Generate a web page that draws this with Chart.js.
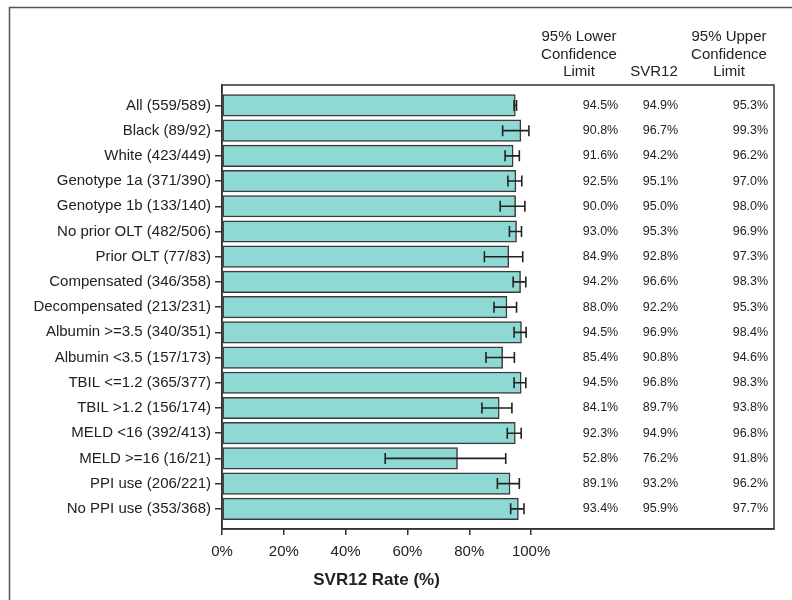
<!DOCTYPE html>
<html>
<head>
<meta charset="utf-8">
<script src="https://cdn.jsdelivr.net/npm/chart.js@4"></script>
<style>
  html, body { margin: 0; padding: 0; background: #fff; }
  #wrap { width: 792px; height: 600px; }
</style>
</head>
<body>
<div id="wrap"><canvas id="svrChart" width="792" height="600"></canvas></div>
<script>
// subgroup labels, top to bottom
const groups = [
    'All (559/589)', 'Black (89/92)', 'White (423/449)', 'Genotype 1a (371/390)',
    'Genotype 1b (133/140)', 'No prior OLT (482/506)', 'Prior OLT (77/83)',
    'Compensated (346/358)', 'Decompensated (213/231)', 'Albumin >=3.5 (340/351)',
    'Albumin <3.5 (157/173)', 'TBIL <=1.2 (365/377)', 'TBIL >1.2 (156/174)',
    'MELD <16 (392/413)', 'MELD >=16 (16/21)', 'PPI use (206/221)', 'No PPI use (353/368)'
];
const svr12 = [94.9, 96.7, 94.2, 95.1, 95.0, 95.3, 92.8, 96.6, 92.2, 96.9, 90.8, 96.8, 89.7, 94.9, 76.2, 93.2, 95.9];
const lowerCL = [94.5, 90.8, 91.6, 92.5, 90.0, 93.0, 84.9, 94.2, 88.0, 94.5, 85.4, 94.5, 84.1, 92.3, 52.8, 89.1, 93.4];
const upperCL = [95.3, 99.3, 96.2, 97.0, 98.0, 96.9, 97.3, 98.3, 95.3, 98.4, 94.6, 98.3, 93.8, 96.8, 91.8, 96.2, 97.7];
const xTicks = [0, 20, 40, 60, 80, 100];

const FONT = '"Liberation Sans", Arial, sans-serif';
const INK = '#222';

// outer frame + plot box
const framePlugin = {
    id: 'frame',
    beforeDraw(chart) {
        const c = chart.ctx;
        c.save();
        c.strokeStyle = '#555';
        c.lineWidth = 1.5;
        c.strokeRect(9.5, 7.5, 900, 700);
        c.restore();
    },
    afterDraw(chart) {
        const a = chart.chartArea, c = chart.ctx;
        c.save();
        c.strokeStyle = '#333';
        c.lineWidth = 1.5;
        c.strokeRect(a.left, a.top, a.right - a.left, a.bottom - a.top);
        c.restore();
    }
};

// confidence interval whiskers
const whiskerPlugin = {
    id: 'whiskers',
    afterDatasetsDraw(chart) {
        const xs = chart.scales.x, ys = chart.scales.y, c = chart.ctx;
        c.save();
        c.strokeStyle = INK;
        c.lineWidth = 1.6;
        lowerCL.forEach((lo, i) => {
            const y = ys.getPixelForValue(i);
            const x1 = xs.getPixelForValue(lo), x2 = xs.getPixelForValue(upperCL[i]);
            c.beginPath();
            c.moveTo(x1, y); c.lineTo(x2, y);
            c.moveTo(x1, y - 5.5); c.lineTo(x1, y + 5.5);
            c.moveTo(x2, y - 5.5); c.lineTo(x2, y + 5.5);
            c.stroke();
        });
        c.restore();
    }
};

// table columns on the right + x axis title
const tablePlugin = {
    id: 'table',
    afterDraw(chart) {
        const xs = chart.scales.x, ys = chart.scales.y, c = chart.ctx;
        const cols = [lowerCL, svr12, upperCL];
        const colRight = [128.2, 147.6, 176.7]; // in x-scale units
        c.save();
        c.fillStyle = INK;
        c.textBaseline = 'middle';
        c.font = '12.5px ' + FONT;
        c.textAlign = 'right';
        cols.forEach((vals, k) => {
            const x = xs.getPixelForValue(colRight[k]);
            vals.forEach((v, i) => c.fillText(v.toFixed(1) + '%', x, ys.getPixelForValue(i)));
        });
        c.font = '15px ' + FONT;
        c.textAlign = 'center';
        const heads = [
            [579, ['95% Lower', 'Confidence', 'Limit']],
            [654, ['SVR12']],
            [729, ['95% Upper', 'Confidence', 'Limit']]
        ];
        heads.forEach(([x, lines]) => {
            lines.forEach((t, j) => c.fillText(t, x, 72 - (lines.length - 1 - j) * 17.5));
        });
        c.font = 'bold 17px ' + FONT;
        c.fillText('SVR12 Rate (%)', xs.getPixelForValue(50), 580);
        c.restore();
    }
};

const config = {
    type: 'bar',
    data: {
        datasets: [{
            label: 'SVR12',
            data: svr12.map((v, i) => ({ x: v, y: i })),
            backgroundColor: '#8fd9d4',
            borderColor: '#3a3a3a',
            borderWidth: 1.5,
            borderSkipped: false,
            barThickness: 21.5
        }]
    },
    options: {
        indexAxis: 'y',
        responsive: false,
        animation: false,
        layout: { padding: { left: 0, top: 85, right: 18, bottom: 0 } },
        plugins: {
            legend: { display: false },
            tooltip: { enabled: false }
        },
        scales: {
            x: {
                type: 'linear',
                min: 0,
                max: 178.6,
                afterBuildTicks(s) { s.ticks = xTicks.map(v => ({ value: v })); },
                afterFit(s) { s.height = 71; },
                grid: { drawOnChartArea: false, drawTicks: true, tickLength: 6, color: '#333', lineWidth: 1.5 },
                border: { display: true, color: '#333', width: 1.5 },
                ticks: {
                    padding: 8,
                    color: INK,
                    font: { family: FONT, size: 15 },
                    callback: v => v + '%'
                }
            },
            y: {
                type: 'linear',
                reverse: true,
                offset: false,
                min: -0.81,
                max: 16.8,
                afterBuildTicks(s) { s.ticks = groups.map((_, i) => ({ value: i })); },
                afterFit(s) { s.width = 222; },
                grid: { offset: false, drawOnChartArea: false, drawTicks: true, tickLength: 7, color: '#333', lineWidth: 1.5 },
                border: { display: true, color: '#333', width: 1.5 },
                ticks: {
                    autoSkip: false,
                    padding: 4,
                    color: INK,
                    font: { family: FONT, size: 15 },
                    callback: v => groups[v]
                }
            }
        }
    },
    plugins: [framePlugin, whiskerPlugin, tablePlugin]
};

new Chart(document.getElementById('svrChart').getContext('2d'), config);
</script>
</body>
</html>
